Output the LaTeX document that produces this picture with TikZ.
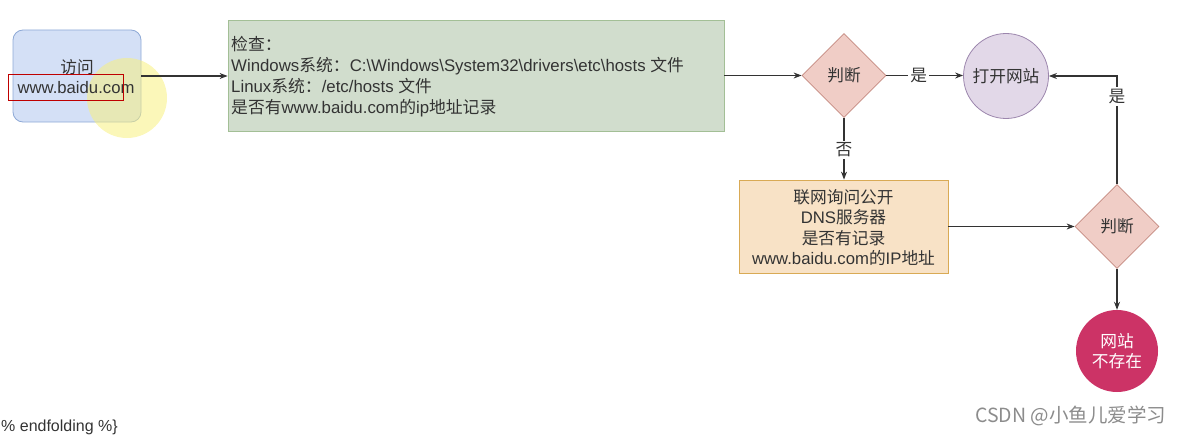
\documentclass[tikz,border=0pt]{standalone}
\usepackage{fontspec}
\setmainfont{Liberation Sans}
\newfontfamily\zhfont{Noto Sans CJK SC}
\newcommand\zh[1]{{\zhfont #1}}
\usetikzlibrary{shapes.geometric,arrows.meta}
\definecolor{txt}{HTML}{333333}
\definecolor{blueF}{HTML}{D4E0F6}
\definecolor{blueD}{HTML}{8EA9D6}
\definecolor{greenF}{HTML}{D1DDCD}
\definecolor{greenD}{HTML}{A3BF96}
\definecolor{pinkF}{HTML}{F0CDC6}
\definecolor{pinkD}{HTML}{C58A80}
\definecolor{purpF}{HTML}{E2D8E8}
\definecolor{purpD}{HTML}{9C86AD}
\definecolor{orF}{HTML}{F8E2C6}
\definecolor{orD}{HTML}{D9AA55}
\definecolor{redF}{HTML}{CC3366}
\definecolor{markY}{HTML}{F8F080}
\begin{document}
\begin{tikzpicture}[x=1pt,y=-1pt,
  every node/.style={text=txt, font=\fontsize{16.7}{20.5}\selectfont},
  arr/.style={draw=txt, line width=1.1pt, -{Stealth[length=8pt,width=6pt]}},
  lbl/.style={fill=white, inner sep=2pt},
  dia/.style={diamond, draw=pinkD, fill=pinkF, line width=0.8pt, minimum width=84pt, minimum height=84pt, inner sep=0pt},
  rbox/.style={rectangle, line width=0.8pt, inner sep=0pt}]
\useasboundingbox (0,0) rectangle (1183,436);
% visit box
\node[rbox, draw=blueD, fill=blueF, rounded corners=10pt, minimum width=128pt, minimum height=92pt] (visit) at (77,76) {};
\fill[markY, opacity=0.55] (127,98) circle (40);
\node (v1) at (77,67) {\zh{访问}};
\node (v2) at (76,88) {www.baidu.com};
\node[rbox, draw=red!75!black, line width=1pt, minimum width=115pt, minimum height=25pt] (hl) at (65.5,87.5) {};
% check box
\node[rbox, draw=greenD, fill=greenF, minimum width=496pt, minimum height=111pt] (check) at (476,75.5) {};
\node[anchor=west, align=left, inner sep=0pt, font=\fontsize{16.8}{21}\selectfont] (checkt) at (231,77)
 {\zh{检查：}\\
  Windows\zh{系统：}C:\textbackslash Windows\textbackslash System32\textbackslash drivers\textbackslash etc\textbackslash hosts \zh{文件}\\
  Linux\zh{系统：}/etc/hosts \zh{文件}\\
  \zh{是否有}www.baidu.com\zh{的}ip\zh{地址记录}};
% decision 1
\node[dia] (d1) at (844,75.5) {\zh{判断}};
% open site
\node[circle, draw=purpD, fill=purpF, line width=0.8pt, minimum size=85pt, inner sep=0pt] (open) at (1006,76) {\zh{打开网站}};
% DNS box
\node[rbox, draw=orD, fill=orF, minimum width=209pt, minimum height=93pt] (dns) at (843.5,226.5) {};
\node[align=center, inner sep=0pt] (dnst) at (843.5,227.5)
 {\zh{联网询问公开}\\DNS\zh{服务器}\\\zh{是否有记录}\\www.baidu.com\zh{的}IP\zh{地址}};
% decision 2
\node[dia] (d2) at (1117,226.5) {\zh{判断}};
% not exist
\node[circle, fill=redF, minimum size=82pt, inner sep=0pt, text=white, align=center] (nx) at (1117,351) {\zh{网站}\\\zh{不存在}};
% connectors
\draw[arr] (visit.east) -- (check.west |- visit.east);
\draw[arr] (check.east |- d1.west) -- (d1.west);
\draw[arr] (d1.east) -- node[lbl, pos=0.42] {\zh{是}} (open.west |- d1.east);
\draw[arr] (d1.south) -- node[lbl, pos=0.52] {\zh{否}} (d1.south |- dns.north);
\draw[arr] (dns.east |- d2.west) -- (d2.west);
\draw[arr] (d2.north) -- (d2.north |- open.east) node[lbl, pos=0.81] {\zh{是}} -- (open.east);
\draw[arr] (d2.south) -- (nx.north);
% watermark and bottom text
\node[anchor=west, text=black!45, font=\fontsize{19.5}{22}\zhfont, inner sep=0pt] (wm) at (975,416) {CSDN @小鱼儿爱学习};
\node[anchor=base west, text=black!80, font=\fontsize{16}{20}\selectfont, inner sep=0pt] (ef) at (1,431) {\% endfolding \%\}};
\end{tikzpicture}
\end{document}
